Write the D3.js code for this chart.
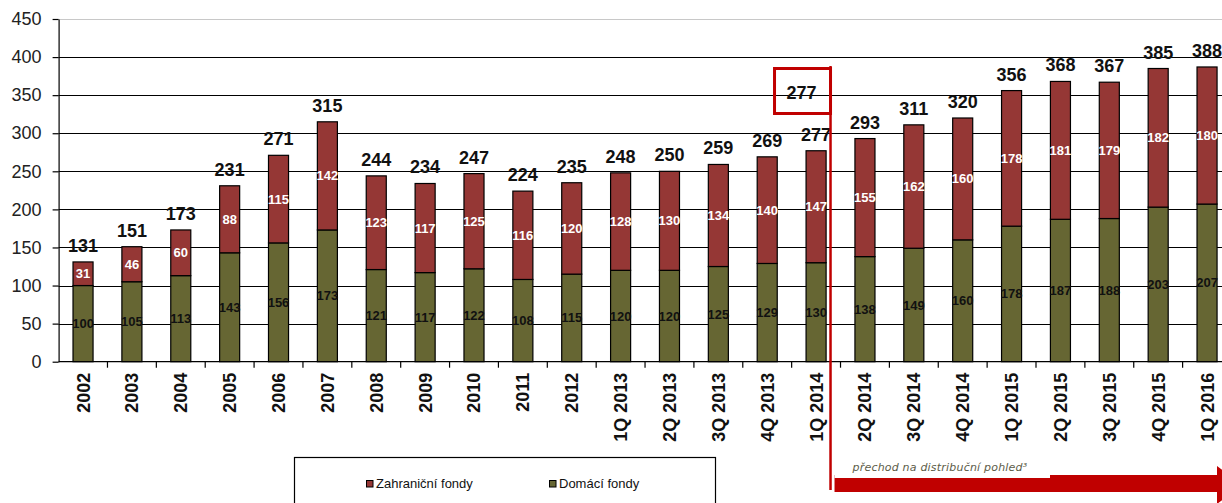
<!DOCTYPE html>
<html>
<head>
<meta charset="utf-8">
<script src="https://cdn.jsdelivr.net/npm/d3@7"></script>
<style>
  html, body { margin: 0; padding: 0; background: #fff; }
  svg { display: block; font-family: "Liberation Sans", Arial, sans-serif; }
</style>
</head>
<body>
<svg id="chart" width="1222" height="503"></svg>
<script>
const categories = ["2002","2003","2004","2005","2006","2007","2008","2009","2010","2011","2012",
  "1Q 2013","2Q 2013","3Q 2013","4Q 2013","1Q 2014","2Q 2014","3Q 2014","4Q 2014",
  "1Q 2015","2Q 2015","3Q 2015","4Q 2015","1Q 2016"];
const domestic = [100,105,113,143,156,173,121,117,122,108,115,120,120,125,129,130,138,149,160,178,187,188,203,207];
const foreign  = [31,46,60,88,115,142,123,117,125,116,120,128,130,134,140,147,155,162,160,178,181,179,182,180];
const totals   = [131,151,173,231,271,315,244,234,247,224,235,248,250,259,269,277,293,311,320,356,368,367,385,388];
const yTicks = [0,50,100,150,200,250,300,350,400,450];
const seriesNames = ["Zahraniční fondy","Domácí fondy"];
const boxedCategory = "1Q 2014";
const boxedValue = 277;
const annotationText = "přechod na distribuční pohled³";

const W = 1222, H = 503;
const plotLeft = 58.6, plotTop = 19, plotBottom = 361.7;
const step = 48.87;
const COL_RED = "#953735", COL_GREEN = "#666633", ANNO = "#c00000";

const svg = d3.select("#chart");
svg.append("rect").attr("width", W).attr("height", H).attr("fill", "#fff");

const x = d3.scaleBand().domain(categories).range([plotLeft, plotLeft + step * categories.length]).padding(0);
const y = d3.scaleLinear().domain([0, 450]).range([plotBottom, plotTop]);
const bw = x.bandwidth();
const barW = bw * 0.41;

// gridlines
svg.append("g").selectAll("line").data(yTicks.filter(d => d > 0)).join("line")
  .attr("x1", plotLeft).attr("x2", W)
  .attr("y1", d => Math.round(y(d)) + 0.5).attr("y2", d => Math.round(y(d)) + 0.5)
  .attr("stroke", d => d === 450 ? "#c8c8c8" : "#000").attr("stroke-width", 1.2);

// y axis
const yAxis = d3.axisLeft(y).tickValues(yTicks).tickSize(6).tickPadding(11).tickSizeOuter(0);
const gy = svg.append("g").attr("transform", `translate(${plotLeft},0)`).call(yAxis);
gy.select(".domain").attr("stroke", "#000").attr("stroke-width", 1.2);
gy.selectAll(".tick line").attr("stroke", "#000").attr("stroke-width", 1.2);
gy.selectAll(".tick text").attr("font-size", 18).attr("fill", "#222")
  .attr("font-family", "Liberation Sans, Arial, sans-serif");

// stacked data
const rows = categories.map((c, i) => ({ c, dom: domestic[i], fr: foreign[i], tot: totals[i] }));

const bars = svg.append("g");
bars.selectAll("rect.dom").data(rows).join("rect").attr("class", "dom")
  .attr("x", d => x(d.c) + (bw - barW) / 2).attr("width", barW)
  .attr("y", d => y(d.dom)).attr("height", d => y(0) - y(d.dom))
  .attr("fill", COL_GREEN).attr("stroke", "#000").attr("stroke-width", 1.2);
bars.selectAll("rect.for").data(rows).join("rect").attr("class", "for")
  .attr("x", d => x(d.c) + (bw - barW) / 2).attr("width", barW)
  .attr("y", d => y(d.dom + d.fr)).attr("height", d => y(d.dom) - y(d.dom + d.fr))
  .attr("fill", COL_RED).attr("stroke", "#000").attr("stroke-width", 1.2);

bars.selectAll("text.dl").data(rows).join("text").attr("class", "dl")
  .attr("x", d => x(d.c) + bw / 2).attr("y", d => y(d.dom / 2)).attr("dy", "0.35em")
  .attr("text-anchor", "middle").attr("font-size", 13).attr("font-weight", "bold").attr("fill", "#111")
  .text(d => d.dom);
bars.selectAll("text.fl").data(rows).join("text").attr("class", "fl")
  .attr("x", d => x(d.c) + bw / 2).attr("y", d => y(d.dom + d.fr / 2)).attr("dy", "0.35em")
  .attr("text-anchor", "middle").attr("font-size", 13).attr("font-weight", "bold").attr("fill", "#fff")
  .text(d => d.fr);
bars.selectAll("text.tl").data(rows).join("text").attr("class", "tl")
  .attr("x", d => x(d.c) + bw / 2).attr("y", d => y(d.dom + d.fr) - 10)
  .attr("text-anchor", "middle").attr("font-size", 18).attr("font-weight", "bold").attr("fill", "#111")
  .text(d => d.tot);

// x axis
const gx = svg.append("g");
gx.append("line").attr("x1", plotLeft).attr("x2", W).attr("y1", plotBottom).attr("y2", plotBottom)
  .attr("stroke", "#000").attr("stroke-width", 1.2);
gx.selectAll("line.tk").data(categories.slice(1)).join("line").attr("class", "tk")
  .attr("x1", d => x(d)).attr("x2", d => x(d)).attr("y1", plotBottom).attr("y2", plotBottom + 6)
  .attr("stroke", "#000").attr("stroke-width", 1.2);
gx.selectAll("text").data(categories).join("text")
  .attr("transform", d => `translate(${x(d) + bw / 2},${plotBottom + 11}) rotate(-90)`)
  .attr("text-anchor", "end").attr("dy", "0.36em")
  .attr("font-size", 18).attr("font-weight", "bold").attr("fill", "#111")
  .text(d => d);

// annotation: vertical red line and box
const lineX = x(categories[categories.indexOf(boxedCategory) + 1]) - 10;
svg.append("line").attr("x1", lineX).attr("x2", lineX).attr("y1", 66).attr("y2", 490)
  .attr("stroke", ANNO).attr("stroke-width", 2.5);
svg.append("rect").attr("x", lineX - 56).attr("y", 68.5).attr("width", 56).attr("height", 45)
  .attr("fill", "none").attr("stroke", ANNO).attr("stroke-width", 3);
svg.append("text").attr("x", lineX - 29).attr("y", 99).attr("text-anchor", "middle")
  .attr("font-size", 18).attr("font-weight", "bold").attr("fill", "#111").text(boxedValue);

// arrow
const ax0 = lineX + 4;
svg.append("path")
  .attr("d", `M${ax0},475 L1217,475 L1217,466 L1242,485 L1217,504 L1217,492 L${ax0},492 Z`)
  .attr("fill", ANNO);
svg.append("rect").attr("x", ax0).attr("y", 474).attr("width", 1050 - ax0).attr("height", 4).attr("fill", "#fff");
svg.append("text").attr("x", lineX + 22).attr("y", 471)
  .attr("font-size", 11).attr("font-style", "italic").attr("fill", "#5c5c48")
  .attr("font-family", "DejaVu Sans, sans-serif").attr("letter-spacing", 0.2)
  .text(annotationText);

// legend
const lg = svg.append("g");
lg.append("rect").attr("x", 294.5).attr("y", 457.5).attr("width", 421).attr("height", 60)
  .attr("fill", "#fff").attr("stroke", "#000").attr("stroke-width", 1.2);
const legendItems = [
  { name: seriesNames[0], color: COL_RED, sx: 366 },
  { name: seriesNames[1], color: COL_GREEN, sx: 549 }
];
legendItems.forEach(it => {
  lg.append("rect").attr("x", it.sx + 0.5).attr("y", 480.5).attr("width", 6.5).attr("height", 6.5)
    .attr("fill", it.color).attr("stroke", "#000").attr("stroke-width", 1);
  lg.append("text").attr("x", it.sx + 10).attr("y", 488).attr("font-size", 13).attr("fill", "#111")
    .text(it.name);
});
</script>
</body>
</html>
